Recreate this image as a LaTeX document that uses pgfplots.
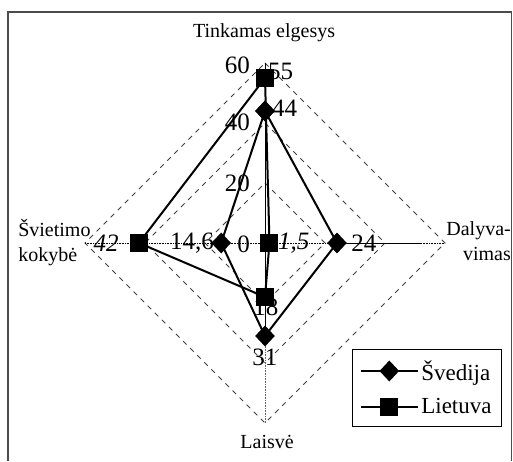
\documentclass[border=0pt]{standalone}
\usepackage{fontspec}
\setmainfont{Liberation Serif}
\usepackage{pgfplots}
\pgfplotsset{compat=1.18}
\newcommand\nf{\fontsize{25}{28}\selectfont}
\newcommand\lf{\fontsize{20}{25}\selectfont}

\begin{document}
\begin{tikzpicture}
\begin{axis}[
  width=513pt, height=461pt, scale only axis,
  xmin=-88.33, xmax=82.67, ymin=-72.67, ymax=81,
  axis lines=none, clip=false,
  legend style={at={(rel axis cs:0.686,0.243)}, anchor=north west,
    draw=black, line width=0.8pt, font=\fontsize{23}{26}\selectfont,
    row sep=13pt, inner xsep=8pt, inner ysep=9pt},
  legend cell align=left,
  legend image code/.code={\draw[#1, mark repeat=2, mark phase=2]
    plot coordinates {(0pt,0pt)(28pt,0pt)(57pt,0pt)};},
]
\path (rel axis cs:0,0) rectangle (rel axis cs:1,1);
% frame of the scanned figure
\draw[black!70, line width=1.2pt] (axis cs:-85.67,-72.67) -- (axis cs:-85.67,77) -- (axis cs:82.3,77) -- (axis cs:82.3,-72.67);

% dashed grid
\addplot[black!75, line width=0.8pt, dash pattern=on 5pt off 5pt, forget plot]
  coordinates {(0,20)(20,0)(0,-20)(-20,0)(0,20)};
\addplot[black!75, line width=0.8pt, dash pattern=on 5pt off 5pt, forget plot]
  coordinates {(0,40)(40,0)(0,-40)(-40,0)(0,40)};
\addplot[black!75, line width=0.8pt, dash pattern=on 5pt off 5pt, forget plot]
  coordinates {(0,60)(60,0)(0,-60)(-60,0)(0,60)};

% spokes
\addplot[black, line width=0.6pt, densely dotted, forget plot] coordinates {(-60,0)(60,0)};
\addplot[black, line width=0.6pt, forget plot] coordinates {(24,0)(52,0)};
\addplot[black, line width=0.6pt, forget plot] coordinates {(0,60)(0,-31)};
\addplot[black!60, line width=0.6pt, densely dotted, forget plot] coordinates {(0,-31)(0,-60)};

% scale labels
\node[anchor=east, inner sep=0pt, font=\nf] at (axis cs:-5,59.3) {60};
\node[anchor=east, inner sep=0pt, font=\nf] at (axis cs:-5,40.3) {40};
\node[anchor=east, inner sep=0pt, font=\nf] at (axis cs:-5,20) {20};
\node[anchor=east, inner sep=0pt, font=\nf] at (axis cs:-5,-0.3) {0};

% value labels
\node[anchor=west, inner sep=0pt, font=\nf] at (axis cs:1,57.3) {55};
\node[anchor=west, inner sep=0pt, font=\nf] at (axis cs:2.3,45) {44};
\node[anchor=west, inner sep=0pt, font=\nf] at (axis cs:28.7,0) {24};
\node[anchor=west, inner sep=0pt, font=\nf\itshape] at (axis cs:4.3,0) {1,5};
\node[anchor=east, inner sep=0pt, font=\nf] at (axis cs:-17,0) {14,6};
\node[anchor=east, inner sep=0pt, font=\nf\itshape] at (axis cs:-48.7,0) {42};
\node[inner sep=0pt, font=\nf] at (axis cs:0.3,-21.3) {18};
\node[inner sep=0pt, font=\nf] at (axis cs:0,-38) {31};

% category labels
\node[inner sep=0pt, font=\lf] at (axis cs:-0.3,70) {Tinkamas elgesys};
\node[inner sep=0pt, font=\lf] at (axis cs:0.7,-66.3) {Laisvė};
\node[anchor=west, align=left, inner sep=0pt, font=\lf] at (axis cs:-82.3,0) {Švietimo\\kokybė};
\node[anchor=east, align=right, inner sep=0pt, font=\lf] at (axis cs:82,0.7) {Dalyva-\\vimas};

% series
\addplot[black, line width=2pt, mark=diamond*, mark size=9pt, mark options={solid, xscale=1.25}]
  coordinates {(0,44)(24,0)(0,-31)(-14.6,0)(0,44)};
\addlegendentry{Švedija}
\addplot[black, line width=2pt, mark=square*, mark size=8pt, mark options={solid}]
  coordinates {(0,55)(1.5,0)(0,-18)(-42,0)(0,55)};
\addlegendentry{Lietuva}
\end{axis}
\end{tikzpicture}
\end{document}
